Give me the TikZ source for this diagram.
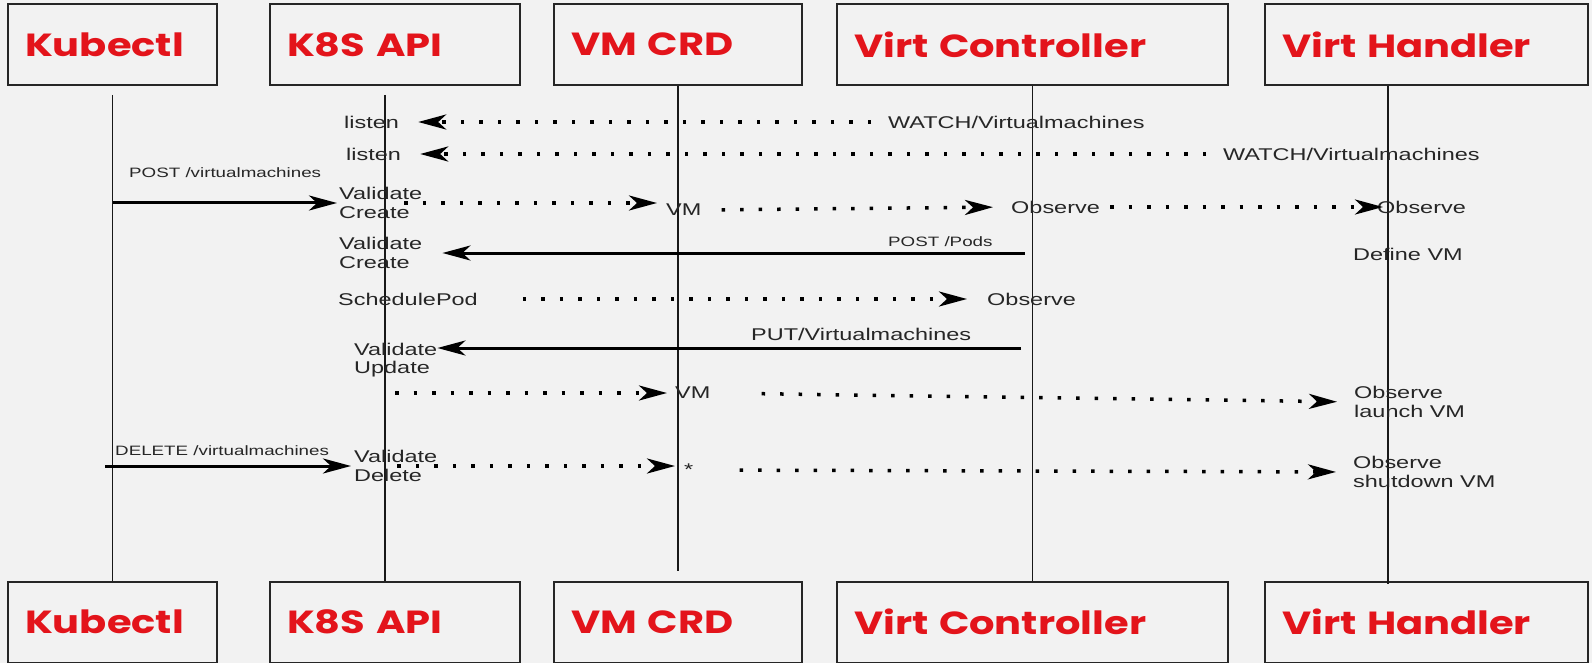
\documentclass[tikz,border=0pt]{standalone}
\usepackage{fontspec}
\setmainfont{Liberation Sans}
\newfontfamily\msgfont[FakeStretch=1.38]{Liberation Sans}
\newfontfamily\hdrfont[FakeStretch=1.25]{Poppins}
\usetikzlibrary{arrows.meta,calc}
\definecolor{cBg}{HTML}{F2F2F2}
\definecolor{cHdr}{HTML}{E3141B}
\definecolor{cMsg}{HTML}{262626}
\tikzset{
  hdr/.style   ={draw=black!85, line width=2pt, fill=cBg, minimum height=81pt,
                 inner xsep=17pt, inner ysep=0pt, align=left, text=cHdr,
                 font=\hdrfont\bfseries\fontsize{32}{34}\selectfont},
  msg/.style   ={anchor=west, inner sep=0pt, align=left, text=cMsg,
                 font=\msgfont\fontsize{17}{18.5}\selectfont},
  smsg/.style  ={msg, font=\msgfont\fontsize{13.6}{15}\selectfont},
  life/.style  ={line width=1.3pt, draw=black!90},
  solarr/.style={-{Stealth[length=28pt,width=15pt,inset=8pt]}, line width=3pt},
  dotarr/.style={-{Stealth[length=28pt,width=15pt,inset=8pt]}, line width=3.5pt,
                 dash pattern=on 3.5pt off 15pt},
}

\begin{document}
\begin{tikzpicture}[x=1pt, y=-1pt]
\fill[cBg] (0,0) rectangle (1592,663);
\useasboundingbox (0,0) rectangle (1592,663);

% participants
\node[hdr, minimum width=209pt, text width=175pt] (kubT) at (112.5,44.5) {Kubectl};
\node[hdr, minimum width=250pt, text width=216pt] (apiT) at (395,44.5) {K8S API};
\node[hdr, minimum width=248pt, text width=214pt] (crdT) at (678,44.5) {VM CRD};
\node[hdr, minimum width=391pt, text width=357pt] (ctlT) at (1032.5,44.5) {Virt Controller};
\node[hdr, minimum width=323pt, text width=289pt] (hdlT) at (1426.5,44.5) {Virt Handler};

\node[hdr, minimum width=209pt, text width=175pt] (kubB) at (112.5,622) {Kubectl};
\node[hdr, minimum width=250pt, text width=216pt] (apiB) at (395,622) {K8S API};
\node[hdr, minimum width=248pt, text width=214pt] (crdB) at (678,622) {VM CRD};
\node[hdr, minimum width=391pt, text width=357pt] (ctlB) at (1032.5,622) {Virt Controller};
\node[hdr, minimum width=323pt, text width=289pt] (hdlB) at (1426.5,622) {Virt Handler};

% lifelines
\draw[life] ([yshift=-9pt]kubT.south) -- (kubB.north);
\draw[life] ([xshift=-10pt,yshift=-9pt]apiT.south) -- ([xshift=-10pt]apiB.north);
\draw[life] (crdT.south) -- ([yshift=10pt]crdB.north);
\draw[life] (ctlT.south) -- (ctlB.north);
\draw[life] ([xshift=-38.5pt]hdlT.south) -- ([xshift=-38.5pt,yshift=-3pt]hdlB.north);

% watches
\node[msg] (lsnA) at (344,122) {listen};
\node[msg] (wchA) at (888,122) {WATCH/Virtualmachines};
\draw[dotarr, shorten <=17pt, shorten >=19pt] (wchA.west) -- (lsnA.east);
\node[msg] (lsnB) at (346,154) {listen};
\node[msg] (wchB) at (1223,154) {WATCH/Virtualmachines};
\draw[dotarr, shorten <=17pt, shorten >=19pt] (wchB.west) -- (lsnB.east);

% create vm
\node[smsg] (postVm) at (129,173) {POST /virtualmachines};
\node[msg] (valC) at (339,203) {Validate\\Create};
\coordinate (kubC) at (kubT.south |- valC.west);
\draw[solarr, shorten >=2pt] (kubC) -- (valC.west);
\node[msg] (vmA) at (666,210) {VM};
\draw[dotarr, shorten <=-18pt, shorten >=9pt] (valC.east) -- (vmA.west |- valC.east);
\node[msg] (obsC) at (1011,207) {Observe};
\draw[dotarr, shorten <=20pt, shorten >=18pt] (vmA.east) -- (obsC.west);
\node[msg] (obsH) at (1377,207) {Observe};
\draw[dotarr, shorten <=10pt, shorten >=-6pt] (obsC.east) -- (obsH.west);

% pod
\node[msg] (valP) at (339,253) {Validate\\Create};
\node[smsg] (postPod) at (888,242) {POST /Pods};
\coordinate (ctlP) at (ctlT.south |- valP.west);
\draw[solarr, shorten <=8pt, shorten >=20pt] (ctlP) -- (valP.east);
\node[msg] (defVm) at (1353,254) {Define VM};

\node[msg] (sched) at (338,299) {SchedulePod};
\node[msg] (obsP) at (987,299) {Observe};
\draw[dotarr, shorten <=45pt, shorten >=20pt] (sched.east) -- (obsP.west);

% update
\node[msg] (putVm) at (751,334) {PUT/Virtualmachines};
\node[msg] (valU) at (354,360) {Validate\\Update};
\coordinate (ctlU) at (1021,348);
\draw[solarr] (ctlU) -- (valU.east |- ctlU);

% launch
\coordinate (apiL) at (395,393);
\node[msg] (vmB) at (675,393) {VM};
\draw[dotarr, shorten >=8pt] (apiL) -- (vmB.west);
\node[msg] (obsL) at (1354,402) {Observe\\launch VM};
\draw[dotarr, shorten <=51pt, shorten >=17pt] (vmB.east) -- (obsL.west);

% delete
\node[smsg] (delVm) at (115,451) {DELETE /virtualmachines};
\node[msg] (valD) at (354,466) {Validate\\Delete};
\coordinate (kubD) at (105,466);
\draw[solarr, shorten >=3pt] (kubD) -- (valD.west);
\node[msg] (star) at (684,470) {*};
\draw[dotarr, shorten <=-40pt, shorten >=9pt] (valD.east) -- (star.west |- valD.east);
\node[msg] (obsS) at (1353,472) {Observe\\shutdown VM};
\draw[dotarr, shorten <=46pt, shorten >=17pt] (star.east) -- (obsS.west);
\end{tikzpicture}
\end{document}
